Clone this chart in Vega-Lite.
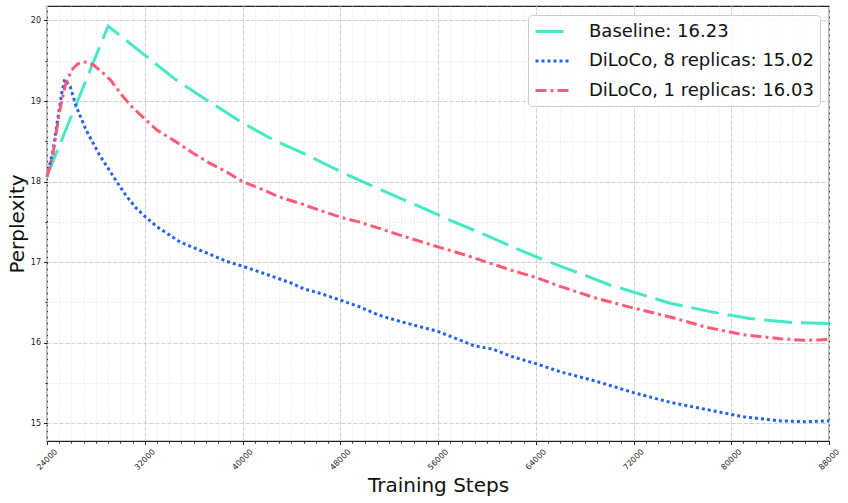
{
  "$schema": "https://vega.github.io/schema/vega-lite/v6.json",
  "width": 782,
  "height": 435,
  "autosize": "none",
  "padding": {"left": 47, "top": 6, "right": 19, "bottom": 62},
  "background": "white",
  "data": {
    "values": [
      {"series": "Baseline: 16.23", "step": 24000, "ppl": 18.07},
      {"series": "Baseline: 16.23", "step": 29000, "ppl": 19.93},
      {"series": "Baseline: 16.23", "step": 30250, "ppl": 19.78},
      {"series": "Baseline: 16.23", "step": 32000, "ppl": 19.57},
      {"series": "Baseline: 16.23", "step": 34500, "ppl": 19.27},
      {"series": "Baseline: 16.23", "step": 37000, "ppl": 19.02},
      {"series": "Baseline: 16.23", "step": 40000, "ppl": 18.73},
      {"series": "Baseline: 16.23", "step": 42500, "ppl": 18.52},
      {"series": "Baseline: 16.23", "step": 45000, "ppl": 18.35},
      {"series": "Baseline: 16.23", "step": 48500, "ppl": 18.09},
      {"series": "Baseline: 16.23", "step": 51000, "ppl": 17.92},
      {"series": "Baseline: 16.23", "step": 54500, "ppl": 17.69},
      {"series": "Baseline: 16.23", "step": 57000, "ppl": 17.52},
      {"series": "Baseline: 16.23", "step": 60000, "ppl": 17.33},
      {"series": "Baseline: 16.23", "step": 63000, "ppl": 17.13},
      {"series": "Baseline: 16.23", "step": 66000, "ppl": 16.95},
      {"series": "Baseline: 16.23", "step": 68000, "ppl": 16.84},
      {"series": "Baseline: 16.23", "step": 70000, "ppl": 16.72},
      {"series": "Baseline: 16.23", "step": 72000, "ppl": 16.63},
      {"series": "Baseline: 16.23", "step": 75000, "ppl": 16.49},
      {"series": "Baseline: 16.23", "step": 78500, "ppl": 16.38},
      {"series": "Baseline: 16.23", "step": 81500, "ppl": 16.3},
      {"series": "Baseline: 16.23", "step": 85000, "ppl": 16.25},
      {"series": "Baseline: 16.23", "step": 88000, "ppl": 16.24},

      {"series": "DiLoCo, 8 replicas: 15.02", "step": 24000, "ppl": 18.06},
      {"series": "DiLoCo, 8 replicas: 15.02", "step": 24500, "ppl": 18.39},
      {"series": "DiLoCo, 8 replicas: 15.02", "step": 24900, "ppl": 18.8},
      {"series": "DiLoCo, 8 replicas: 15.02", "step": 25200, "ppl": 19.09},
      {"series": "DiLoCo, 8 replicas: 15.02", "step": 25450, "ppl": 19.27},
      {"series": "DiLoCo, 8 replicas: 15.02", "step": 25900, "ppl": 19.18},
      {"series": "DiLoCo, 8 replicas: 15.02", "step": 26400, "ppl": 18.93},
      {"series": "DiLoCo, 8 replicas: 15.02", "step": 27200, "ppl": 18.64},
      {"series": "DiLoCo, 8 replicas: 15.02", "step": 28300, "ppl": 18.33},
      {"series": "DiLoCo, 8 replicas: 15.02", "step": 29700, "ppl": 18.0},
      {"series": "DiLoCo, 8 replicas: 15.02", "step": 30500, "ppl": 17.82},
      {"series": "DiLoCo, 8 replicas: 15.02", "step": 31300, "ppl": 17.67},
      {"series": "DiLoCo, 8 replicas: 15.02", "step": 32000, "ppl": 17.57},
      {"series": "DiLoCo, 8 replicas: 15.02", "step": 33000, "ppl": 17.44},
      {"series": "DiLoCo, 8 replicas: 15.02", "step": 34000, "ppl": 17.34},
      {"series": "DiLoCo, 8 replicas: 15.02", "step": 34900, "ppl": 17.25},
      {"series": "DiLoCo, 8 replicas: 15.02", "step": 36000, "ppl": 17.18},
      {"series": "DiLoCo, 8 replicas: 15.02", "step": 37300, "ppl": 17.1},
      {"series": "DiLoCo, 8 replicas: 15.02", "step": 38700, "ppl": 17.01},
      {"series": "DiLoCo, 8 replicas: 15.02", "step": 40000, "ppl": 16.95},
      {"series": "DiLoCo, 8 replicas: 15.02", "step": 41000, "ppl": 16.9},
      {"series": "DiLoCo, 8 replicas: 15.02", "step": 42500, "ppl": 16.82},
      {"series": "DiLoCo, 8 replicas: 15.02", "step": 44000, "ppl": 16.74},
      {"series": "DiLoCo, 8 replicas: 15.02", "step": 45000, "ppl": 16.67},
      {"series": "DiLoCo, 8 replicas: 15.02", "step": 46200, "ppl": 16.62},
      {"series": "DiLoCo, 8 replicas: 15.02", "step": 48000, "ppl": 16.53},
      {"series": "DiLoCo, 8 replicas: 15.02", "step": 49500, "ppl": 16.45},
      {"series": "DiLoCo, 8 replicas: 15.02", "step": 51200, "ppl": 16.34},
      {"series": "DiLoCo, 8 replicas: 15.02", "step": 53000, "ppl": 16.26},
      {"series": "DiLoCo, 8 replicas: 15.02", "step": 56000, "ppl": 16.14},
      {"series": "DiLoCo, 8 replicas: 15.02", "step": 57500, "ppl": 16.05},
      {"series": "DiLoCo, 8 replicas: 15.02", "step": 59000, "ppl": 15.96},
      {"series": "DiLoCo, 8 replicas: 15.02", "step": 60500, "ppl": 15.92},
      {"series": "DiLoCo, 8 replicas: 15.02", "step": 62000, "ppl": 15.83},
      {"series": "DiLoCo, 8 replicas: 15.02", "step": 64000, "ppl": 15.74},
      {"series": "DiLoCo, 8 replicas: 15.02", "step": 66000, "ppl": 15.64},
      {"series": "DiLoCo, 8 replicas: 15.02", "step": 67500, "ppl": 15.58},
      {"series": "DiLoCo, 8 replicas: 15.02", "step": 69000, "ppl": 15.52},
      {"series": "DiLoCo, 8 replicas: 15.02", "step": 70500, "ppl": 15.45},
      {"series": "DiLoCo, 8 replicas: 15.02", "step": 72000, "ppl": 15.38},
      {"series": "DiLoCo, 8 replicas: 15.02", "step": 75000, "ppl": 15.26},
      {"series": "DiLoCo, 8 replicas: 15.02", "step": 78000, "ppl": 15.17},
      {"series": "DiLoCo, 8 replicas: 15.02", "step": 81000, "ppl": 15.08},
      {"series": "DiLoCo, 8 replicas: 15.02", "step": 84000, "ppl": 15.03},
      {"series": "DiLoCo, 8 replicas: 15.02", "step": 86000, "ppl": 15.02},
      {"series": "DiLoCo, 8 replicas: 15.02", "step": 88000, "ppl": 15.03},

      {"series": "DiLoCo, 1 replicas: 16.03", "step": 24000, "ppl": 18.06},
      {"series": "DiLoCo, 1 replicas: 16.03", "step": 24500, "ppl": 18.35},
      {"series": "DiLoCo, 1 replicas: 16.03", "step": 25000, "ppl": 18.85},
      {"series": "DiLoCo, 1 replicas: 16.03", "step": 25500, "ppl": 19.2},
      {"series": "DiLoCo, 1 replicas: 16.03", "step": 26000, "ppl": 19.38},
      {"series": "DiLoCo, 1 replicas: 16.03", "step": 26500, "ppl": 19.46},
      {"series": "DiLoCo, 1 replicas: 16.03", "step": 27000, "ppl": 19.49},
      {"series": "DiLoCo, 1 replicas: 16.03", "step": 27800, "ppl": 19.45},
      {"series": "DiLoCo, 1 replicas: 16.03", "step": 28500, "ppl": 19.36},
      {"series": "DiLoCo, 1 replicas: 16.03", "step": 29200, "ppl": 19.26},
      {"series": "DiLoCo, 1 replicas: 16.03", "step": 30250, "ppl": 19.05},
      {"series": "DiLoCo, 1 replicas: 16.03", "step": 31000, "ppl": 18.92},
      {"series": "DiLoCo, 1 replicas: 16.03", "step": 32000, "ppl": 18.78},
      {"series": "DiLoCo, 1 replicas: 16.03", "step": 33000, "ppl": 18.64},
      {"series": "DiLoCo, 1 replicas: 16.03", "step": 34600, "ppl": 18.49},
      {"series": "DiLoCo, 1 replicas: 16.03", "step": 36000, "ppl": 18.35},
      {"series": "DiLoCo, 1 replicas: 16.03", "step": 37300, "ppl": 18.23},
      {"series": "DiLoCo, 1 replicas: 16.03", "step": 38700, "ppl": 18.12},
      {"series": "DiLoCo, 1 replicas: 16.03", "step": 40000, "ppl": 18.0},
      {"series": "DiLoCo, 1 replicas: 16.03", "step": 41500, "ppl": 17.91},
      {"series": "DiLoCo, 1 replicas: 16.03", "step": 43000, "ppl": 17.81},
      {"series": "DiLoCo, 1 replicas: 16.03", "step": 44700, "ppl": 17.73},
      {"series": "DiLoCo, 1 replicas: 16.03", "step": 46200, "ppl": 17.65},
      {"series": "DiLoCo, 1 replicas: 16.03", "step": 48000, "ppl": 17.56},
      {"series": "DiLoCo, 1 replicas: 16.03", "step": 49500, "ppl": 17.5},
      {"series": "DiLoCo, 1 replicas: 16.03", "step": 51200, "ppl": 17.42},
      {"series": "DiLoCo, 1 replicas: 16.03", "step": 53000, "ppl": 17.33},
      {"series": "DiLoCo, 1 replicas: 16.03", "step": 56000, "ppl": 17.19},
      {"series": "DiLoCo, 1 replicas: 16.03", "step": 58000, "ppl": 17.1},
      {"series": "DiLoCo, 1 replicas: 16.03", "step": 60200, "ppl": 16.99},
      {"series": "DiLoCo, 1 replicas: 16.03", "step": 62000, "ppl": 16.9},
      {"series": "DiLoCo, 1 replicas: 16.03", "step": 64000, "ppl": 16.81},
      {"series": "DiLoCo, 1 replicas: 16.03", "step": 66000, "ppl": 16.7},
      {"series": "DiLoCo, 1 replicas: 16.03", "step": 69000, "ppl": 16.55},
      {"series": "DiLoCo, 1 replicas: 16.03", "step": 72000, "ppl": 16.43},
      {"series": "DiLoCo, 1 replicas: 16.03", "step": 75000, "ppl": 16.32},
      {"series": "DiLoCo, 1 replicas: 16.03", "step": 78000, "ppl": 16.19},
      {"series": "DiLoCo, 1 replicas: 16.03", "step": 81000, "ppl": 16.1},
      {"series": "DiLoCo, 1 replicas: 16.03", "step": 84000, "ppl": 16.05},
      {"series": "DiLoCo, 1 replicas: 16.03", "step": 86000, "ppl": 16.03},
      {"series": "DiLoCo, 1 replicas: 16.03", "step": 88000, "ppl": 16.04}
    ]
  },
  "layer": [
    {
      "mark": {"type": "point", "opacity": 0},
      "encoding": {
        "x": {
          "field": "step",
          "type": "quantitative",
          "scale": {"domain": [24000, 88000], "nice": false, "zero": false},
          "axis": {
            "orient": "bottom",
            "values": [24000, 25000, 26000, 27000, 28000, 29000, 30000, 31000, 32000, 33000, 34000, 35000, 36000, 37000, 38000, 39000, 40000, 41000, 42000, 43000, 44000, 45000, 46000, 47000, 48000, 49000, 50000, 51000, 52000, 53000, 54000, 55000, 56000, 57000, 58000, 59000, 60000, 61000, 62000, 63000, 64000, 65000, 66000, 67000, 68000, 69000, 70000, 71000, 72000, 73000, 74000, 75000, 76000, 77000, 78000, 79000, 80000, 81000, 82000, 83000, 84000, 85000, 86000, 87000, 88000],
            "labels": false,
            "title": null,
            "domain": false,
            "tickSize": 2,
            "grid": true,
            "gridColor": "#e0e0e0",
            "gridDash": [1, 2]
          }
        },
        "y": {
          "field": "ppl",
          "type": "quantitative",
          "scale": {"domain": [14.78, 20.18], "nice": false, "zero": false},
          "axis": {
            "orient": "left",
            "values": [15, 15.5, 16, 16.5, 17, 17.5, 18, 18.5, 19, 19.5, 20],
            "labels": false,
            "title": null,
            "domain": false,
            "tickSize": 2,
            "grid": true,
            "gridColor": "#e0e0e0",
            "gridDash": [1, 2]
          }
        }
      }
    },
    {
      "mark": {"type": "line", "strokeWidth": 3},
      "encoding": {
        "x": {
          "field": "step",
          "type": "quantitative",
          "scale": {"domain": [24000, 88000], "nice": false, "zero": false},
          "axis": {
            "orient": "bottom",
            "values": [24000, 32000, 40000, 48000, 56000, 64000, 72000, 80000, 88000],
            "format": "d",
            "title": "Training Steps",
            "labelAngle": -45,
            "labelAlign": "center",
            "labelBaseline": "middle",
            "labelFlush": false,
            "labelOverlap": false,
            "labelPadding": 15,
            "titlePadding": 4,
            "domain": false,
            "tickSize": 3.5,
            "grid": true,
            "gridColor": "#d0d0d0",
            "gridDash": [4, 2]
          }
        },
        "y": {
          "field": "ppl",
          "type": "quantitative",
          "scale": {"domain": [14.78, 20.18], "nice": false, "zero": false},
          "axis": {
            "orient": "left",
            "values": [15, 16, 17, 18, 19, 20],
            "title": "Perplexity",
            "labelPadding": 3,
            "titlePadding": 3,
            "domain": false,
            "tickSize": 3.5,
            "grid": true,
            "gridColor": "#d0d0d0",
            "gridDash": [4, 2]
          }
        },
        "color": {
          "field": "series",
          "type": "nominal",
          "scale": {
            "domain": ["Baseline: 16.23", "DiLoCo, 8 replicas: 15.02", "DiLoCo, 1 replicas: 16.03"],
            "range": ["#46e8c6", "#2362ea", "#ff5a76"]
          },
          "legend": {"title": null}
        },
        "strokeDash": {
          "field": "series",
          "type": "nominal",
          "scale": {
            "domain": ["Baseline: 16.23", "DiLoCo, 8 replicas: 15.02", "DiLoCo, 1 replicas: 16.03"],
            "range": [[28, 9], [3, 3], [11, 4, 3, 4]]
          },
          "legend": {"title": null}
        }
      }
    }
  ],
  "resolve": {"axis": {"x": "independent", "y": "independent"}},
  "config": {
    "font": "DejaVu Sans",
    "view": {"stroke": "#222222", "strokeWidth": 1.2},
    "axis": {
      "labelFont": "DejaVu Sans",
      "labelFontSize": 8,
      "labelColor": "#222222",
      "tickColor": "#222222",
      "titleFont": "DejaVu Sans",
      "titleFontSize": 20,
      "titleFontWeight": "normal",
      "titleColor": "#111111"
    },
    "legend": {
      "orient": "top-right",
      "offset": 9,
      "padding": 6,
      "rowPadding": 9.5,
      "labelFont": "DejaVu Sans",
      "labelFontSize": 18,
      "labelColor": "#111111",
      "labelOffset": 34,
      "labelLimit": 400,
      "symbolType": "M-1,0H3",
      "symbolSize": 324,
      "symbolStrokeWidth": 3,
      "strokeColor": "#cccccc",
      "fillColor": "rgba(255,255,255,0.85)",
      "cornerRadius": 4
    }
  }
}
